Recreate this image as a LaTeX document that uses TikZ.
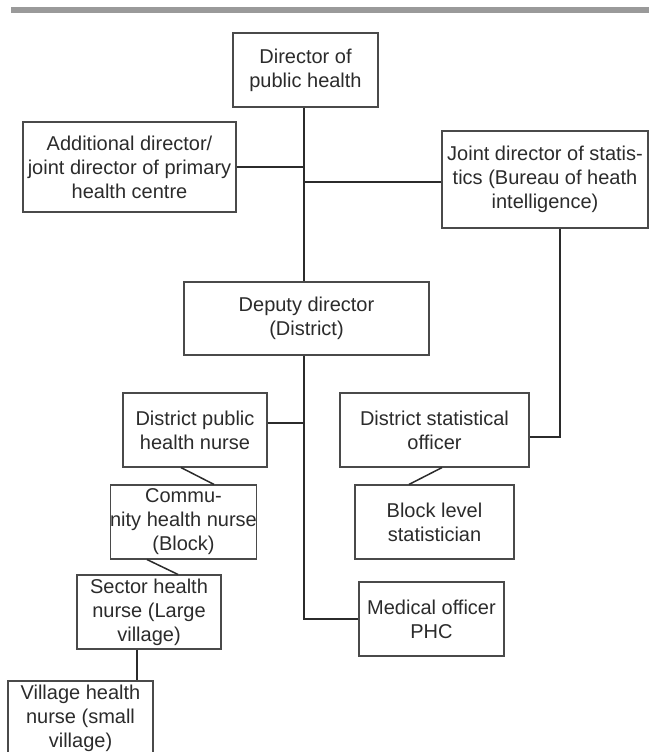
\documentclass[tikz,border=0pt]{standalone}
\usepackage{fontspec}
\setmainfont{Liberation Sans}
\usepackage{xcolor}
\usepackage{tikz}
\usetikzlibrary{positioning,calc}
\definecolor{inkgray}{HTML}{2B2B2B}
\definecolor{boxgray}{HTML}{4A4A4A}
\definecolor{bargray}{HTML}{9A9A9A}

\begin{document}
\begin{tikzpicture}[x=1pt, y=-1pt,
    post/.style={draw=boxgray, line width=1.1pt, align=center, inner sep=0pt,
        text=inkgray, font=\fontsize{20}{24}\selectfont,
        minimum width=145pt, minimum height=74pt},
    link/.style={draw=inkgray, line width=1.5pt}]
    \useasboundingbox (0,0) rectangle (649,752);
    \fill[bargray] (11,7) rectangle (649,13);

    \coordinate (trunk) at (304,0);

    \node[post] (dph) at (305.5,70) {Director of\\public health};
    \node[post, minimum width=213pt, minimum height=90pt] (add) at (129.5,167)
        {Additional director/\\joint director of primary\\health centre};
    \node[post, minimum width=206pt, minimum height=97pt] (jds) at (545,179.5)
        {Joint director of statis-\\tics (Bureau of heath\\intelligence)};
    \node[post, minimum width=245pt, minimum height=73pt] (dep) at (306.5,318.5)
        {Deputy director\\(District)};
    \node[post, minimum width=144pt] (dphn) at (195,430) {District public\\health nurse};
    \node[post, minimum width=189pt] (dso) at (434.5,430) {District statistical\\officer};
    \node[post] (chn) at (183.5,522) {Commu-\\nity health nurse\\(Block)};
    \node[post, minimum width=159pt] (bls) at (434.5,522) {Block level\\statistician};
    \node[post, minimum width=144pt] (shn) at (149,612) {Sector health\\nurse (Large\\village)};
    \node[post] (mo) at (431.5,619) {Medical officer\\PHC};
    \node[post] (vhn) at (80.5,718) {Village health\\nurse (small\\village)};

    \draw[link] (dph.south -| trunk) -- (dep.north -| trunk);
    \draw[link] (dep.south -| trunk) |- (mo.west);
    \draw[link] (add.east) -- (add.east -| trunk);
    \draw[link] ([yshift=-2.5pt]jds.west) -- ([yshift=-2.5pt]jds.west -| trunk);
    \draw[link] ([yshift=7pt]dphn.east) -- ([yshift=7pt]dphn.east -| trunk);
    \draw[link] ([xshift=15pt]jds.south) |- ([yshift=-7pt]dso.east);
    \draw[link] ([xshift=-14pt]dphn.south) -- ([xshift=30.5pt]chn.north);
    \draw[link] ([xshift=7.5pt]dso.south) -- ([xshift=-25.5pt]bls.north);
    \draw[link] ([xshift=-36.5pt]chn.south) -- ([xshift=29pt]shn.north);
    \draw[link] ([xshift=-12pt]shn.south) -- ([xshift=-12pt]shn.south |- vhn.north);
\end{tikzpicture}
\end{document}
